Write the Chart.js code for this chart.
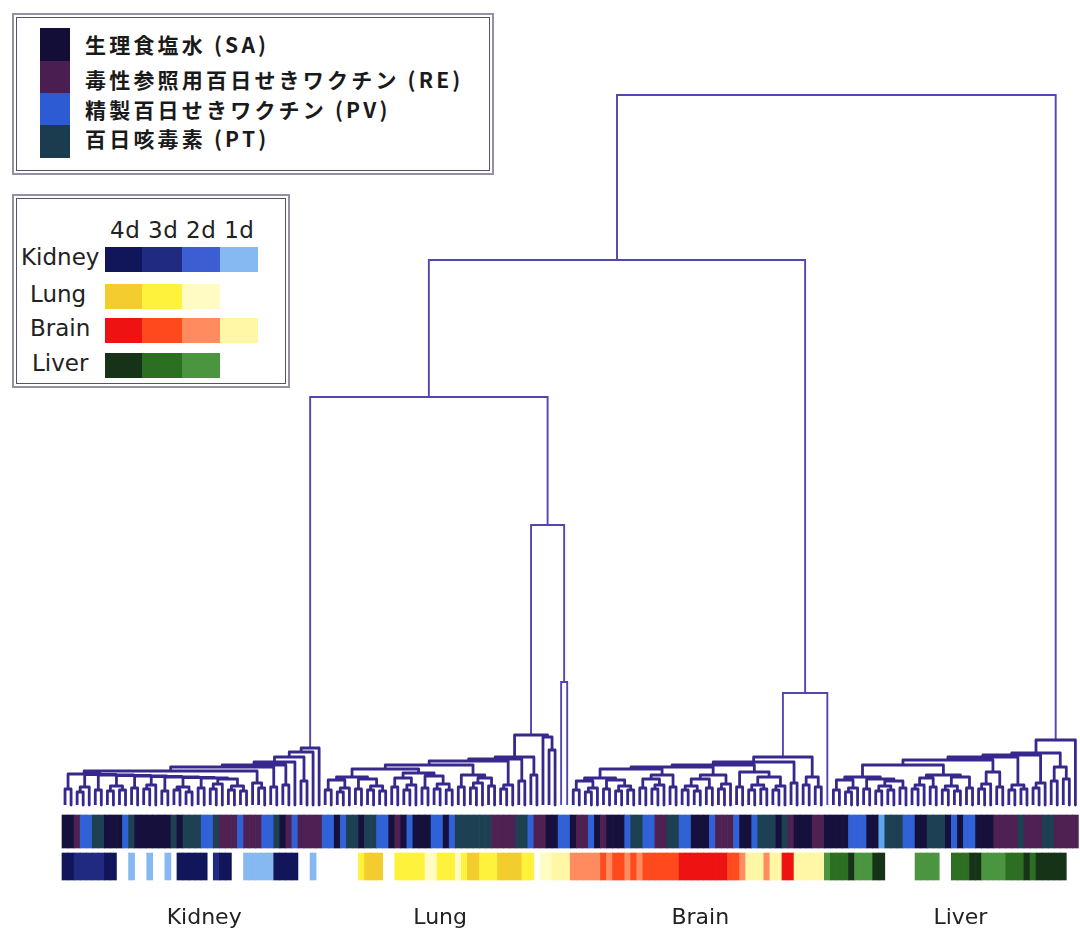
<!DOCTYPE html>
<html><head><meta charset="utf-8">
<script src="https://cdn.jsdelivr.net/npm/chart.js@4/dist/chart.umd.min.js"></script>
<style>
html,body{margin:0;padding:0;background:#fff}
body{width:1080px;height:933px;overflow:hidden;position:relative;font-family:"DejaVu Sans",sans-serif;color:#222}
#c{position:absolute;left:0;top:0}
.box{position:absolute;border:2px solid #9890a2;box-sizing:border-box;background:#fff}
.box::after{content:"";position:absolute;left:2px;top:2px;right:2px;bottom:2px;border:1px solid #5a5264}
.t{position:absolute;white-space:nowrap;line-height:1}
.sw{position:absolute}
.jp{font-family:"Noto Sans CJK JP",sans-serif;font-weight:700;font-size:21px;letter-spacing:3.2px;color:#1a1a1a}
.lab{font-size:23px}
.bot{font-size:22px;transform:translateX(-50%)}
</style>
</head><body>
<canvas id="c" width="1080" height="933"></canvas>

<div class="box" style="left:12px;top:13px;width:482px;height:162px"></div>
<div class="sw" style="left:40px;top:28px;width:30px;height:33px;background:#130e38"></div>
<div class="sw" style="left:40px;top:61px;width:30px;height:32px;background:#4a1e50"></div>
<div class="sw" style="left:40px;top:93px;width:30px;height:32px;background:#2d5bd4"></div>
<div class="sw" style="left:40px;top:125px;width:30px;height:33px;background:#1b3c4e"></div>
<div id="trLegend"></div>

<div class="box" style="left:12px;top:194px;width:278px;height:194px"></div>
<div id="tsLegend"></div>
<div id="bottomLabels"></div>

<script>
// ---------------- DATA ----------------
const treatmentNames = ["生理食塩水 (SA)", "毒性参照用百日せきワクチン (RE)", "精製百日せきワクチン (PV)", "百日咳毒素 (PT)"];
const treatmentKeys = ["S", "R", "P", "T"];
const tissueNames = ["Kidney", "Lung", "Brain", "Liver"];
const dayLabels = ["4d", "3d", "2d", "1d"];
const clusterLabels = ["Kidney", "Lung", "Brain", "Liver"];
const clusterLabelLeaf = [23, 62, 105, 148];

// treatment of each leaf (S=SA, R=RE, P=PV, T=PT, L=PV light)
const treatmentRow = ("SSRPPTTSSS" + "PTSSSSSSTS" + "TTTPPTRRRP" + "RRRPPTSRPR" + "RRRPPSPTTS" +
  "TTPPSRSPSS" + "SPPSPTTTTT" + "TRRRRTTPRR" + "SSPPSRRPSR" + "SSSPTTPPRR" +
  "TTPPSSSPRR" + "RPSSPTTTST" + "RSSSRRSSSS" + "PPPSSLTTTP" + "PSSTTTSPSP" +
  "PSSSRRRRTR" + "RRTTRRRR").split("");

// tissue/day of each leaf, run-length: [code, count]  (K=Kidney, L=Lung, B=Brain, V=Liver, 4..1 = day, _ = none)
const tissueRuns = [
  ["K4",2],["K3",5],["K4",2],["_",2],["K1",1],["_",2],["K1",1],["_",2],["K1",1],["_",1],
  ["K4",5],["_",1],["K3",1],["K4",2],["_",2],["K1",5],["K4",4],["_",2],["K1",1],["_",7],
  ["L3",1],["L4",3],["_",2],["L3",5],["L2",2],["L3",3],["L2",1],["L3",1],["L4",2],["L3",3],["L4",4],["L3",2],["_",1],
  ["L2",2],["B1",3],["B2",5],["B3",1],["B2",1],["B3",2],["B2",1],["B3",1],["B2",1],["B3",6],["B4",8],
  ["B3",2],["B2",1],["B1",3],["B2",1],["B1",2],["B4",2],["B1",5],
  ["V2",1],["V3",3],["V4",1],["V2",3],["V4",2],["_",5],["V2",4],["_",2],["V3",3],["V4",2],["V2",4],["V3",3],["V4",1],["V3",1],["V4",5],["_",2]
];

// dendrogram: node = [height, child, child...], leaf = 0 ; heights measured up from the leaves
const kidneyArches = [[16,0,0],[18,[13,0,0],0],[15,0,0],[19,[14,0,0],[15,0,0]],[17,0,0],[20,[16,0,0],0],[14,0,0],
  [18,[15,0,0],[13,0,0]],[17,0,0],[21,[16,0,0],0],[19,[15,0,0],[14,0,0]]];
const kidneyBaseHeights = [31,30.5,30,29.5,29,28.5,28,27.5,27,26];
const kidneySteps = [[34,[22,0,[17,0,0]]],[38,[18,0,0]],[40,[20,0,0]],[43,0],[48,[24,0,0]],[53,0],[57,0]];

const lungArches = [[15,0,0],[17,[13,0,0],0],[16,0,0],[19,[15,0,0],[14,0,0]],[18,0,0],[20,[15,0,0],0],[17,0,0],
  [21,[16,0,0],[15,0,0]],[18,0,0],[22,[17,0,0],0],[19,0,0],[20,[16,0,0],0],[24,0,0],[30,0,0]];
const lungOutliers = [68,0,[55,0,0]];
const lungPair = [123,0,0];

const brainArches = [[15,0,0],[17,[13,0,0],0],[16,0,0],[19,[14,0,0],[15,0,0]],[17,0,0],[20,[16,0,0],0],[18,0,0],
  [19,[15,0,0],[14,0,0]],[17,0,0],[21,[16,0,0],0],[18,0,0],[20,[15,0,0],[16,0,0]],[19,[15,0,0],0],[22,0,0]];
const brainSide = [28,[20,0,0],[18,0,0]];

const liverArches = [[15,0,0],[17,[13,0,0],0],[16,0,0],[19,[14,0,0],[15,0,0]],[17,0,0],[20,[16,0,0],0],[18,0,0],
  [19,[15,0,0],[14,0,0]],[17,0,0],[21,[16,0,0],0],[18,0,0],[20,[15,0,0],[16,0,0]],[22,[17,0,0],0],[24,0,0],[26,0,0]];

const upperHeights = { lungA: 70, lung: 280, brainA: 48, brain: 112, liver: 65, kidneyLung: 408, withBrain: 545, root: 710 };

// ---------------- STYLES ----------------
const treatmentColors = { S: "#15103c", R: "#4f2153", P: "#3061d6", T: "#1d4052", L: "#5ea4ee" };
const tissueColors = {
  K4: "#11165a", K3: "#1f2a80", K2: "#3c5ed2", K1: "#86b8f2",
  L4: "#f3cd2e", L3: "#fff23c", L2: "#fffbc2",
  B4: "#ee1212", B3: "#ff4a1e", B2: "#ff8b5e", B1: "#fff6a6",
  V4: "#173317", V3: "#2c6e22", V2: "#4b9540", _: "rgba(0,0,0,0)"
};
const legendGrid = [["K4","K3","K2","K1"],["L4","L3","L2","_"],["B4","B3","B2","B1"],["V4","V3","V2","_"]];

// ---------------- TREE BUILD ----------------
function rightChain(groups, hs) { let n = groups[groups.length - 1]; for (let i = groups.length - 2; i >= 0; i--) n = [hs[i], groups[i], n]; return n; }
function leftChain(base, steps) { let n = base; for (const [h, g] of steps) n = [h, n, g]; return n; }

const kidneyTree = leftChain(rightChain(kidneyArches, kidneyBaseHeights), kidneySteps);
const L = lungArches;
const lungE = [40, [36, [28,[25,L[0],L[1]],[26,L[2],L[3]]], [32,[27,L[4],L[5]],[29,L[6],L[7]]]], [30,L[8],[27,L[9],L[10]]]];
const lungMain = [48, [46, [44, lungE, L[11]], L[12]], L[13]];
const lungTree = [upperHeights.lung, [upperHeights.lungA, lungMain, lungOutliers], lungPair];
const B = brainArches;
const bP2 = [36, [27,[24,B[0],B[1]],[25,B[2],B[3]]], [30,[26,B[4],B[5]],B[6]]];
const bP3 = [30, [26,B[7],B[8]], B[9]];
const bP6 = [43, [40, [38, bP2, bP3], [33, B[10], [28, B[11], B[12]]]], B[13]];
const brainTree = [upperHeights.brain, [upperHeights.brainA, bP6, brainSide], 0];
const V = liverArches;
const q1 = [28, [25,V[0],V[1]], [26,V[2],[24,V[3],V[4]]]];
const q2 = [30, [27,V[5],V[6]], [28,V[7],V[8]]];
const q4 = [45, [40, q1, q2], [33,V[9],V[10]]];
const liverTree = [upperHeights.liver, [52, [50, [48, q4, V[11]], V[12]], [38,V[13],V[14]]], 0];
const rootTree = [upperHeights.root, [upperHeights.withBrain, [upperHeights.kidneyLung, kidneyTree, lungTree], brainTree], liverTree];

const lowerPts = [], upperPts = [];
let leafIdx = 0;
function place(node) {
  if (node === 0) return { x: leafIdx++, h: 0 };
  const h = node[0];
  const kids = node.slice(1).map(place);
  const a = kids[0], b = kids[kids.length - 1];
  const out = h > 100 ? upperPts : lowerPts;
  out.push({x:a.x,y:a.h},{x:a.x,y:h},{x:b.x,y:h},{x:b.x,y:b.h},{x:b.x,y:null});
  for (let k = 1; k < kids.length - 1; k++) out.push({x:kids[k].x,y:kids[k].h},{x:kids[k].x,y:h},{x:kids[k].x,y:null});
  return { x: (a.x + b.x) / 2, h };
}
place(rootTree);

const tissueRow = [];
tissueRuns.forEach(([c, n]) => { for (let i = 0; i < n; i++) tissueRow.push(c); });

const row1 = treatmentRow.map((c, i) => ({ x: i, y: [-10, -43] }));
const row2 = tissueRow.map((c, i) => ({ x: i, y: [-48, -75] }));

new Chart(document.getElementById("c"), {
  type: "bar",
  data: { datasets: [
    { type: "line", data: lowerPts, borderColor: "#36288c", borderWidth: 2.8, pointRadius: 0, spanGaps: false, tension: 0, borderJoinStyle: "round" },
    { type: "line", data: upperPts, borderColor: "#5246b0", borderWidth: 1.9, pointRadius: 0, spanGaps: false, tension: 0 },
    { type: "bar", data: row1, backgroundColor: treatmentRow.map(c => treatmentColors[c]), barPercentage: 1, categoryPercentage: 1, grouped: false, borderWidth: 0 },
    { type: "bar", data: row2, backgroundColor: tissueRow.map(c => tissueColors[c]), barPercentage: 1, categoryPercentage: 1, grouped: false, borderWidth: 0 }
  ]},
  options: {
    responsive: false, animation: false,
    layout: { padding: { top: 90, bottom: 51, left: 0, right: 0 } },
    plugins: { legend: { display: false }, tooltip: { enabled: false } },
    scales: {
      x: { type: "linear", min: -10.748, max: 167.764, offset: false, display: false },
      y: { type: "linear", min: -77, max: 715, display: false }
    }
  }
});

// ---------------- LEGENDS / LABELS (HTML text) ----------------
const trY = [45, 80, 110, 139];
document.getElementById("trLegend").innerHTML = treatmentNames.map((n, i) =>
  `<div class="t jp" style="left:85px;top:${trY[i] - 11}px">${n}</div>`).join("");

let ts = `<div class="t lab" style="left:110px;top:219px;letter-spacing:0.5px">${dayLabels.join(" ")}</div>`;
const rowTop = [247, 284, 318, 353], rowLabLeft = [21, 30, 30, 32];
const colLeft = [105, 142, 182, 220], colW = [37, 40, 38, 38];
tissueNames.forEach((n, r) => {
  ts += `<div class="t lab" style="left:${rowLabLeft[r]}px;top:${rowTop[r] - 1}px">${n}</div>`;
  legendGrid[r].forEach((c, k) => {
    ts += `<div class="sw" style="left:${colLeft[k]}px;top:${rowTop[r]}px;width:${colW[k]}px;height:25px;background:${tissueColors[c]}"></div>`;
  });
});
document.getElementById("tsLegend").innerHTML = ts;

document.getElementById("bottomLabels").innerHTML = clusterLabels.map((n, i) => {
  const px = 62 + 6.05 * (clusterLabelLeaf[i] + 0.5);
  return `<div class="t bot" style="left:${px}px;top:906px">${n}</div>`;
}).join("");
</script>
</body></html>
